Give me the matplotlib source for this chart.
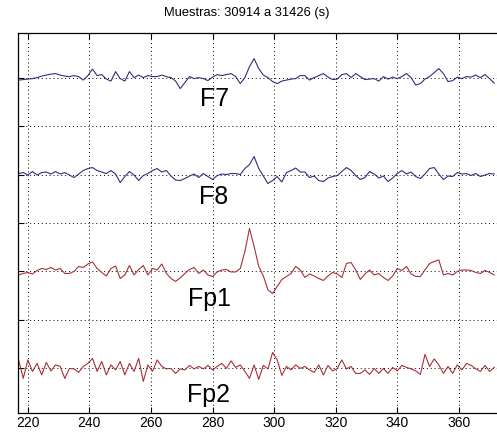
import numpy as np
import matplotlib.pyplot as plt

plt.rcParams["font.family"] = ["Liberation Sans", "DejaVu Sans"]

# ------------------------------------------------------------
# Datos (amplitud relativa de cada canal, eje x en unidades del registro)
# ------------------------------------------------------------
t = np.arange(217, 372, 1.5)

f7 = [-2.5, -2, -1.5, -1, 0, 1.5, 2.5, 3.5, 4, 2.5, 1.5, 1, 2, 1, -2.5, 2, 8.5, 2, 3, -1.5,
      -3.5, 6, -1, -3.5, 6, 0, 2.5, 0, 2, 1, 1, 2.5, 1, 0, -3.5, -11, -5, 1, -1, 0,
      -1, -3, 0.5, 3, 2, 3, 4, 1, -6, 0, 11, 19, 9,
      2.5, 0, -4, -6, -3.5, -2.5, -1.5, -1, 2, 2, -2.5, 0, 2, 4, 0.5, -2, -1.5, 3,
      4, 0, 4, 1, -2, -1.5, -1, -3.5, 1, -1.5, 0.5, -1, 1, 4, 0, -7.5, -6, -1.5,
      1, 5, 9, 4, -4, -3, 0.5, -1, 1, 0.5, 2.5, 0, 3, -1, -5.5]

f8 = [1, 2, -0.5, 3, -0.5, 2, 2.5, 0.5, 3, 0.5, 2, -0.5, -3, 0.5, 4, 6, 7, 4, 2.5, 1,
      4, 0.5, -8, -2, 3, -0.5, -6, -1, 1, 4, 6, 2.5, 4, -1.5, -5.5, -6, -4, -1.5, 0.5, -3,
      1, -2, -5, -1, 0.5, 0, 1, 1, 0, 6, 10, 18, 6,
      -1.5, -9, -6, -2, -7.5, 2, 4, 6.5, 2.5, 2.5, -3, -1.5, -6, -7, -3.5, -2, -1, 3,
      7, 4, -1, -5, -3, 3, 0.5, -3.5, -1.5, -7, -3.5, 1, 4, 0.5, 2.5, -2, -4, 0.5,
      6, 7, 0.5, -5, -1.5, -2, 2, 0.5, 1, -1, 1, -2, -0.5, 1, 0.5]

fp1 = [-3.5, -2, -1, -2.5, 1, 3, 2, 4, 1.5, 3, -2, -2, 0, 5, 4, 7.5, 9.5, 3, -1, -4.5,
       3, 5.5, -7, -3.5, 6, -3.5, 2, 6, -3.5, 3, 1.5, 7.5, -2, -7, -10, -6.5, -2, 2, 4, -2,
       1.5, -3.5, -5, -0.5, 1.5, 2, -0.5, -0.5, 3, 20, 43, 25, 5,
       -4.5, -18.5, -22, -15, -8, -5, -2, 5, 1.5, -6, -2.5, -4.5, -7, -9, -4.5, -1, -2.5, -6,
       8, 9, 1.5, -8, -2.5, 1.5, -3.5, -2, -6, -9, -4.5, 3, 1, 5, -2.5, -5, -5, 1.5,
       8, 10, 11.5, -3.5, -2, -3.5, 0, 1.5, 1.5, 1, -1, -2, 1, -1, -3.5]

fp2 = [8.5, -10, 8.5, -3, 5, -6.5, 6, -2.5, 3.5, 2, -10, 0, -0.5, -4, 2, 5, 10, -3, 7, -6.5,
       3.5, -1.5, 7, -6.5, 5, -3, 10, -13, 3.5, -3, 8.5, 2, -0.5, 0, -5, -0.5, -1.5, 3, -0.5, 2,
       -0.5, 3, -1.5, 2, 5, 0, 7.5, 1, 3.5, -3, -10, 3.5, -11,
       3, -0.5, 16, 8.5, -7, 2, -1.5, 3.5, 0, 2, -1.5, -4, 3.5, -6.5, 3, -2.5, 0, 8.5,
       -0.5, 2, -5, -5, -1.5, -6, 0, -5, 0, -5, 1, -2.5, 3, 1, -0.5, -2.5, -6, 14,
       2, 9.5, 3.5, -5, 2, -5, 3.5, -1.5, 5, 3, -0.5, -3, 3, -3, 1]

canales = ["F7", "F8", "Fp1", "Fp2"]
senales = [f7, f8, fp1, fp2]
desplaz = [6, 4, 2, 0]

COLOR_AZUL = "#30307c"
COLOR_ROJO = "#aa3038"
colores = [COLOR_AZUL, COLOR_AZUL, COLOR_ROJO, COLOR_ROJO]

escala = 1 / 48.5

# posiciones de las etiquetas (x centro, y linea base)
etiq_x = [280.8, 280.4, 279.1, 278.7]
etiq_y = [5.41, 3.39, 1.29, -0.69]

# ------------------------------------------------------------
# Figura
# ------------------------------------------------------------
fig = plt.figure(figsize=(4.97, 4.32), dpi=100)
ax = fig.add_axes([18 / 497, 19 / 432, 1 - 18 / 497, 380 / 432])

for s, d, c in zip(senales, desplaz, colores):
    ax.plot(t, d + np.array(s) * escala, color=c, linewidth=0.8)

for nombre, x, y in zip(canales, etiq_x, etiq_y):
    ax.text(x, y, nombre, ha="center", va="baseline", fontsize=18, color="black")

ax.set_xlim(216.8, 372.4)
ax.set_ylim(-0.92, 6.92)
ax.set_xticks(np.arange(220, 372, 20))
ax.set_yticks(np.arange(0, 7, 1))
ax.set_yticklabels([])

ax.grid(True, color="black", linestyle=(0, (1, 3)), linewidth=0.7)
ax.tick_params(axis="x", direction="in", top=True, length=4, labelsize=10, pad=2)
ax.tick_params(axis="y", direction="in", length=4)
ax.spines["right"].set_visible(False)
for lado in ["top", "left", "bottom"]:
    ax.spines[lado].set_linewidth(0.9)

fig.text(247 / 497, 1 - 13 / 432, "Muestras: 30914 a 31426 (s)",
         ha="center", va="center", fontsize=9.3)

fig.savefig("out.png", dpi=100)
